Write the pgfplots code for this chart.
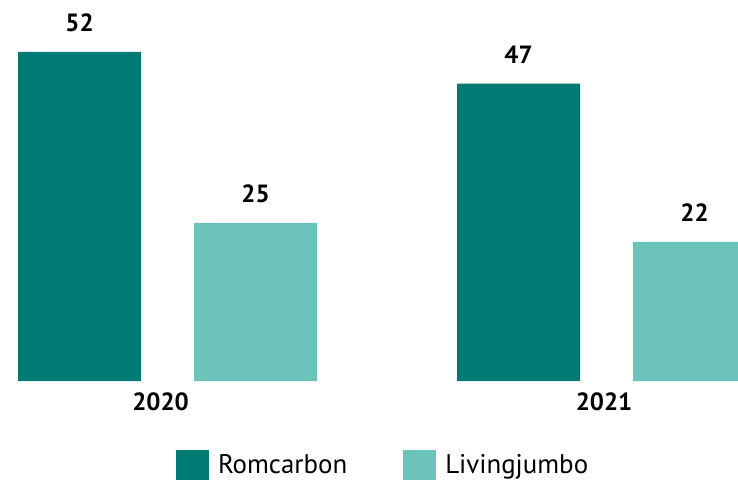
\documentclass[border=0pt]{standalone}
\usepackage{fontspec}
\setmainfont{PT Sans}
\usepackage{pgfplots}
\pgfplotsset{compat=1.18}
\definecolor{romc}{HTML}{007A74}
\definecolor{livj}{HTML}{6BC3BC}
\begin{document}
\begin{tikzpicture}
\begin{axis}[
  width=738bp, height=480bp, scale only axis,
  xmin=0, xmax=738, ymin=-15.647, ymax=60.218,
  hide axis,
  /pgf/number format/assume math mode=true,
  nodes near coords,
  every node near coord/.append style={font=\fontsize{25}{28}\selectfont\bfseries,
    anchor=base, yshift=20bp, text=black},
  legend style={at={(axis cs:176,-10.905)}, anchor=north west, draw=none, fill=none,
    inner sep=0pt, outer sep=0pt, legend columns=2,
    font=\fontsize{27}{30}\selectfont,
    /tikz/every odd column/.append style={column sep=9bp},
    /tikz/every even column/.append style={column sep=56bp},
    nodes={inner sep=0pt, anchor=base west}},
  legend image code/.code={\fill[#1] (0bp,-9bp) rectangle (33bp,24bp);},
]
% group positions in px: bars 123 wide
\addplot[ybar, bar width=123, bar shift=0pt, fill=romc, draw=none]
  coordinates {(79.5,52) (518.5,47)};
\addlegendentry{Romcarbon}
\addplot[ybar, bar width=123, bar shift=0pt, fill=livj, draw=none]
  coordinates {(255.5,25) (694.5,22)};
\addlegendentry{Livingjumbo}

\node[font=\fontsize{25}{28}\selectfont\bfseries, anchor=base] at (axis cs:160.5,-4.74) {2020};
\node[font=\fontsize{25}{28}\selectfont\bfseries, anchor=base] at (axis cs:604,-4.74) {2021};
\end{axis}
\pgfresetboundingbox
\path[use as bounding box] (current axis.south west) rectangle (current axis.north east);
\end{tikzpicture}
\end{document}
